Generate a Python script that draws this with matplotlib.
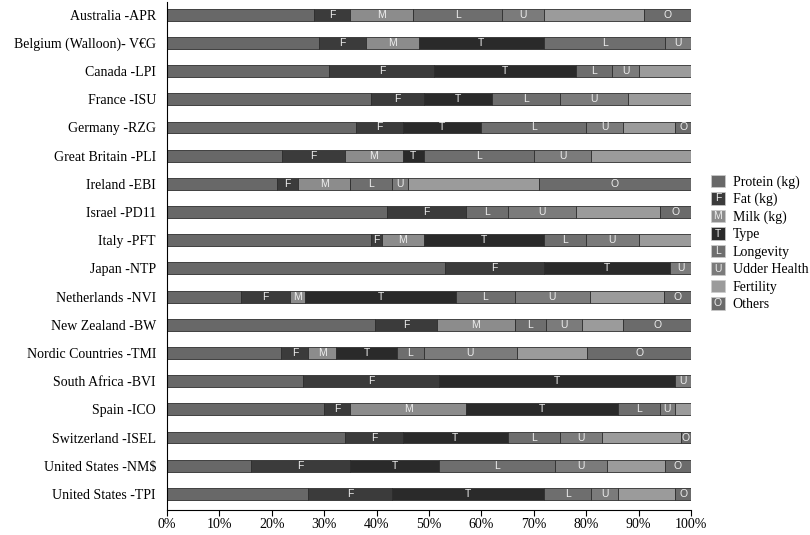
import numpy as np
import matplotlib
matplotlib.use("Agg")
import matplotlib.pyplot as plt
from matplotlib.patches import Patch, Rectangle
from matplotlib.legend_handler import HandlerBase
from matplotlib.text import Text
from matplotlib.ticker import PercentFormatter

# Data (share of selection index, %)
countries = ["Australia -APR", "Belgium (Walloon)- V€G", "Canada -LPI", "France -ISU",
             "Germany -RZG", "Great Britain -PLI", "Ireland -EBI", "Israel -PD11",
             "Italy -PFT", "Japan -NTP", "Netherlands -NVI", "New Zealand -BW",
             "Nordic Countries -TMI", "South Africa -BVI", "Spain -ICO",
             "Switzerland -ISEL", "United States -NM$", "United States -TPI"]

protein   = [28, 29, 31, 39, 36, 22, 21, 42, 39, 53, 14.2, 39.6, 21.8, 26, 30, 34, 16, 27]
fat       = [7, 9, 20, 10, 9, 12, 4, 15, 2, 19, 9.2, 11.9, 5.2, 26, 5, 11, 19, 16]
milk      = [12, 10, 0, 0, 0, 11, 10, 0, 8, 0, 3.0, 14.8, 5.3, 0, 22, 0, 0, 0]
type_     = [0, 24, 27, 13, 15, 4, 0, 0, 23, 24, 28.7, 0, 11.6, 45, 29, 20, 17, 29]
longevity = [17, 23, 7, 13, 20, 21, 8, 8, 8, 0, 11.3, 6.0, 5.1, 0, 8, 10, 22, 9]
udder     = [8, 5, 5, 13, 7, 11, 3, 13, 10, 4, 14.3, 6.9, 17.7, 3, 3, 8, 10, 5]
fertility = [19, 0, 10, 12, 10, 19, 25, 16, 10, 0, 14.1, 7.8, 13.5, 0, 3, 15, 11, 11]
others    = [9, 0, 0, 0, 3, 0, 29, 6, 0, 0, 5.2, 12.9, 19.8, 0, 0, 2, 5, 3]

series = [protein, fat, milk, type_, longevity, udder, fertility, others]
names = ["Protein (kg)", "Fat (kg)", "Milk (kg)", "Type", "Longevity",
         "Udder Health", "Fertility", "Others"]
letters = ["", "F", "M", "T", "L", "U", "", "O"]
colors = ["#686868", "#3b3b3b", "#8c8c8c", "#2a2a2a", "#6e6e6e", "#7b7b7b", "#9b9b9b", "#6b6b6b"]

vals = np.array(series, dtype=float)
vals = vals / vals.sum(axis=0) * 100

serif = "Liberation Serif"
sans = "Liberation Sans"

fig = plt.figure(figsize=(8.1, 5.35), dpi=100)
ax = fig.add_axes((167/810, 1-510/535, 524/810, 508/535))

y = np.arange(len(countries))
left = np.zeros(len(countries))
for i in range(len(series)):
    ax.barh(y, vals[i], left=left, height=0.42, color=colors[i],
            edgecolor="#2e2e2e", linewidth=0.6)
    if letters[i]:
        for j in range(len(countries)):
            if vals[i][j] > 0:
                ax.text(left[j] + vals[i][j]/2, y[j], letters[i], ha="center", va="center",
                        color="#eeeeee", fontsize=7.5, family=sans)
    left += vals[i]

ax.set_xlim(0, 100)
ax.set_ylim(17.57, -0.45)
ax.set_yticks(y)
ax.set_yticklabels(countries, family=serif, fontsize=10)
ax.tick_params(axis="y", length=0, pad=8)
ax.set_xticks(np.arange(0, 101, 10))
ax.xaxis.set_major_formatter(PercentFormatter(decimals=0))
ax.tick_params(axis="x", direction="out", length=4, width=0.8, labelsize=10, pad=2)
for lab in ax.get_xticklabels():
    lab.set_family(serif)
ax.spines["top"].set_visible(False)
ax.spines["right"].set_visible(False)


class LetterHandler(HandlerBase):
    def __init__(self, letter):
        super().__init__()
        self.letter = letter

    def create_artists(self, legend, orig_handle, xdescent, ydescent, width, height, fontsize, trans):
        r = Rectangle((-xdescent, -ydescent), width, height, facecolor=orig_handle.get_facecolor(),
                      edgecolor="#cccccc", linewidth=0.5, transform=trans)
        arts = [r]
        if self.letter:
            t = Text(-xdescent + width/2, -ydescent + height/2, self.letter, ha="center", va="center",
                     color="#eeeeee", fontsize=7.5, family=sans, transform=trans)
            arts.append(t)
        return arts


handles = [Patch(facecolor=c) for c in colors]
hmap = {h: LetterHandler(l) for h, l in zip(handles, letters)}
fig.legend(handles, names, handler_map=hmap, loc="upper left",
           bbox_to_anchor=(705/810, 1-169/535), frameon=False,
           prop={"family": serif, "size": 10}, handlelength=1.05, handleheight=1.0,
           labelspacing=0.25, handletextpad=0.55, borderaxespad=0)

fig.savefig("out.png", dpi=100)
